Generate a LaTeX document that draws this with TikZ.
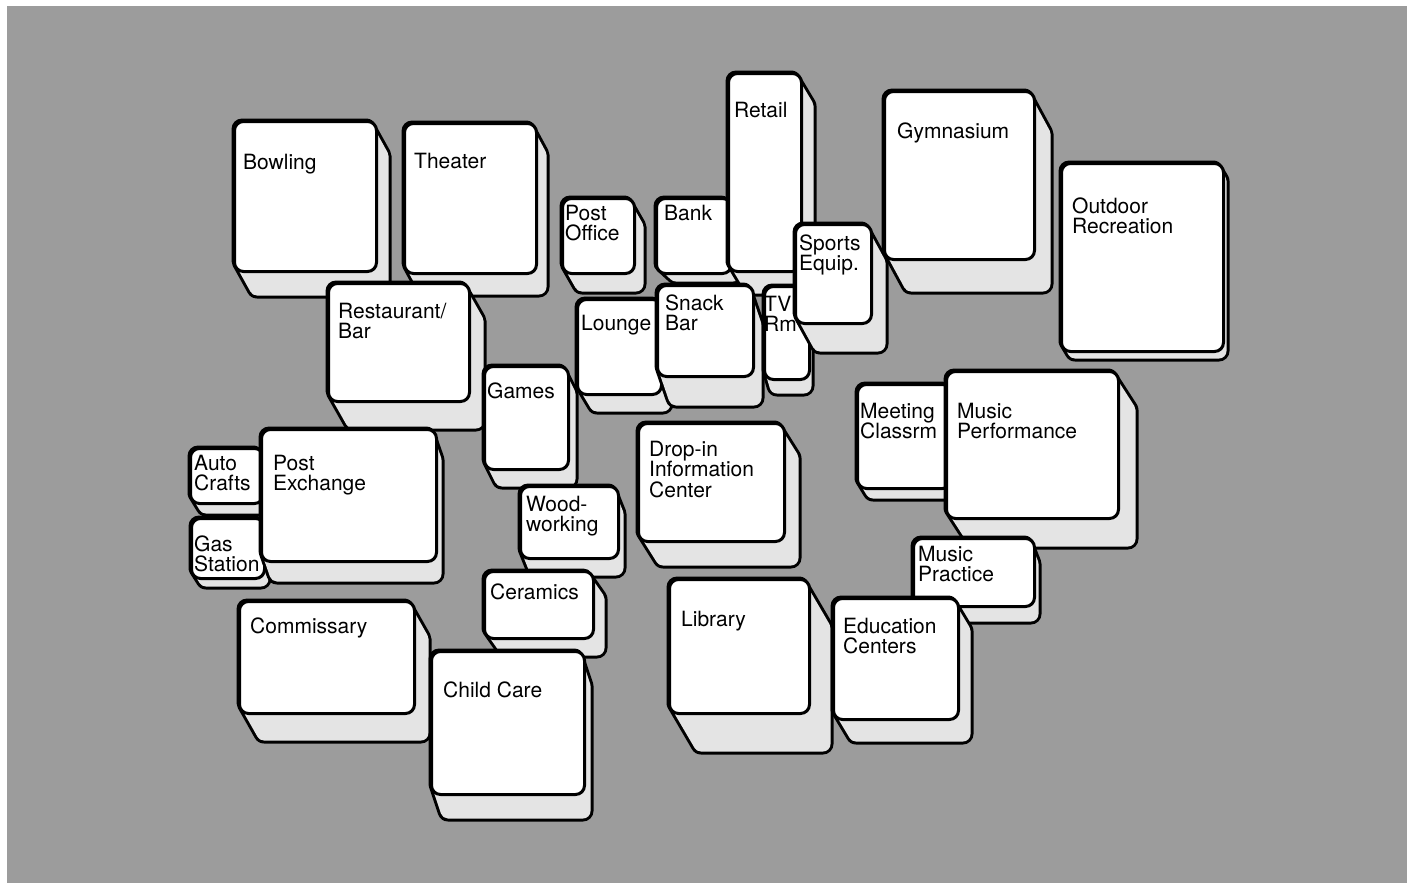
\documentclass[tikz,border=0pt]{standalone}
\usepackage{fontspec}
\setmainfont{TeX Gyre Heros}
\definecolor{board}{RGB}{156,156,156}
\definecolor{sidecol}{RGB}{228,228,228}
\tikzset{
  face/.style={draw=black, fill=white, line width=3pt, rounded corners=9pt, inner sep=0pt, anchor=north west},
  lbl/.style={font=\fontsize{21}{20.5}\selectfont, align=left, inner sep=0pt, anchor=base west},
  sideout/.style={draw=black, fill=black, line width=21pt, line join=round},
  sidein/.style={draw=sidecol, fill=sidecol, line width=15pt, line join=round},
}
% #1 name, #2..#5 face corners (x1,y1,x2,y2), #6 #7 depth offset,
% #8 baseline point of the last label line, #9 label
\newcommand\bldg[9]{%
  \draw[sideout] ({#2+9},{#3+9}) -- ({#4-9},{#3+9}) -- ({#4-9+#6},{#3+9+#7})
     -- ({#4-9+#6},{#5-9+#7}) -- ({#2+9+#6},{#5-9+#7}) -- ({#2+9},{#5-9}) -- cycle;
  \draw[sidein] ({#2+9},{#3+9}) -- ({#4-9},{#3+9}) -- ({#4-9+#6},{#3+9+#7})
     -- ({#4-9+#6},{#5-9+#7}) -- ({#2+9+#6},{#5-9+#7}) -- ({#2+9},{#5-9}) -- cycle;
  \node[face, minimum width={#4-#2}, minimum height={#5-#3}] (#1) at (#2,#3) {};
  \node[lbl] (#1-t) at #8 {#9};
}
\begin{document}
\begin{tikzpicture}[x=1pt,y=-1pt]
\useasboundingbox (0,0) rectangle (1410,883);
\fill[white] (0,0) rectangle (1410,883);
\fill[board] (7,6) rectangle (1407,883);

\bldg{bowling}{233}{120}{375}{270}{15}{27}{(243,169)}{Bowling}
\bldg{theater}{403}{122}{535}{272}{13}{24}{(414,168)}{Theater}
\bldg{restaurant}{327}{282}{468}{400}{17}{30}{(338,338.5)}{Restaurant/\\Bar}
\bldg{games}{483}{365}{567}{468}{10}{20}{(487,398)}{Games}
\bldg{postoffice}{561}{197}{633}{272}{12}{21}{(565,240.5)}{Post\\Office}
\bldg{bank}{655}{197}{730}{272}{12}{11}{(664,220)}{Bank}
\bldg{retail}{727}{72}{800}{270}{15}{25}{(734,117)}{Retail}
\bldg{lounge}{576}{298}{660}{393}{12}{20}{(581,330)}{Lounge}
\bldg{snack}{656}{284}{752}{375}{11}{32}{(665,330.5)}{Snack\\Bar}
\bldg{tvrm}{763}{285}{808}{378}{5}{17}{(764,331.5)}{TV\\Rm}
\bldg{gym}{883}{90}{1033}{258}{19}{35}{(897,138)}{Gymnasium}
\bldg{sports}{794}{223}{870}{322}{17}{31}{(799,270.5)}{Sports\\Equip.}
\bldg{outdoor}{1060}{162}{1222}{350}{6}{10}{(1072,233.5)}{Outdoor\\Recreation}
\bldg{meeting}{856}{383}{950}{487}{8}{13}{(860,438.5)}{Meeting\\Classrm}
\bldg{musicperf}{945}{370}{1117}{517}{20}{31}{(957,438.5)}{Music\\Performance}
\bldg{musicprac}{912}{537}{1033}{605}{7}{18}{(918,581.5)}{Music\\Practice}
\bldg{autocrafts}{189}{447}{262}{502}{8}{13}{(194,490.5)}{Auto\\Crafts}
\bldg{gas}{190}{517}{263}{577}{7}{11}{(194,571.5)}{Gas\\Station}
\bldg{px}{260}{428}{435}{560}{8}{23}{(273,490.5)}{Post\\Exchange}
\bldg{dropin}{637}{422}{783}{540}{17}{27}{(649,497)}{Drop-in\\Information\\Center}
\bldg{wood}{519}{485}{617}{557}{8}{20}{(526,531.5)}{Wood-\\working}
\bldg{ceramics}{483}{570}{592}{637}{14}{20}{(490,599)}{Ceramics}
\bldg{commissary}{238}{600}{413}{712}{17}{30}{(250,633)}{Commissary}
\bldg{childcare}{430}{650}{583}{793}{9}{27}{(443,697)}{Child Care}
\bldg{library}{668}{578}{808}{712}{24}{41}{(681,626)}{Library}
\bldg{education}{832}{597}{957}{718}{15}{25}{(843,653.5)}{Education\\Centers}
\end{tikzpicture}
\end{document}
